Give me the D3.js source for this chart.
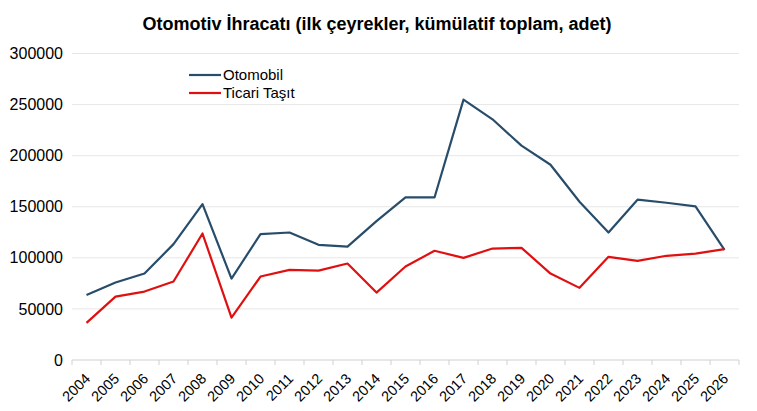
<!DOCTYPE html>
<html>
<head>
<meta charset="utf-8">
<script src="https://cdn.jsdelivr.net/npm/d3@7"></script>
<style>
  body { margin: 0; background: #fff; }
  text { font-family: "Liberation Sans", Arial, sans-serif; fill: #000; }
</style>
</head>
<body>
<script>
const width = 757;
const height = 411;

// data
const years = ['2004','2005','2006','2007','2008','2009','2010','2011','2012','2013','2014','2015',
               '2016','2017','2018','2019','2020','2021','2022','2023','2024','2025','2026'];
const otomobil = [63700, 75800, 84600, 113400, 152600, 79700, 123200, 124800, 112700, 111000, 136000, 159100,
                  159100, 254900, 235600, 209800, 191100, 154900, 124800, 156900, 153900, 150300, 107800];
const ticari = [36300, 62000, 67000, 76800, 123800, 41500, 81700, 88200, 87500, 94400, 66000, 91500,
                106900, 100000, 109100, 109800, 84600, 70600, 101000, 97000, 102000, 104200, 108500];
const yTicks = [0, 50000, 100000, 150000, 200000, 250000, 300000];
const seriesNames = ['Otomobil', 'Ticari Taşıt'];
const seriesColors = ['#284d6b', '#e01010'];

const margin = {left: 72, right: 18, top: 53.5, bottom: 51};

const svg = d3.select('body').append('svg').attr('width', width).attr('height', height);

svg.append('text')
  .attr('x', 377).attr('y', 30)
  .attr('text-anchor', 'middle')
  .style('font-size', '18px').style('font-weight', 'bold')
  .text('Otomotiv İhracatı (ilk çeyrekler, kümülatif toplam, adet)');

const xs = d3.scaleBand().domain(years).range([margin.left, width - margin.right]);
const ys = d3.scaleLinear().domain([0, 300000]).range([height - margin.bottom, margin.top]);

// gridlines
svg.append('g')
  .selectAll('line')
  .data(yTicks.slice(1))
  .enter()
  .append('line')
  .attr('x1', margin.left).attr('x2', width - margin.right)
  .attr('y1', d => ys(d)).attr('y2', d => ys(d))
  .style('stroke', '#e6e6e6').style('stroke-width', 1);

// y axis labels
const yaxis = d3.axisLeft(ys).tickValues(yTicks).tickSize(0).tickPadding(9).tickFormat(d3.format('d'));
svg.append('g')
  .attr('transform', `translate(${margin.left},0)`)
  .call(yaxis)
  .call(g => g.select('.domain').remove())
  .selectAll('text')
  .style('font-size', '16px')
  .style('font-family', '"Liberation Sans", Arial, sans-serif')
  .attr('fill', '#000');

// x axis: line with tick marks at category boundaries
const xAxisG = svg.append('g').attr('transform', `translate(0,${ys(0)})`);
xAxisG.append('line')
  .attr('x1', margin.left).attr('x2', width - margin.right)
  .style('stroke', '#d0d0d0');
xAxisG.selectAll('.tk')
  .data(years.concat(['end']))
  .enter()
  .append('line')
  .attr('x1', (d, i) => i < years.length ? xs(d) : xs(years[years.length - 1]) + xs.bandwidth())
  .attr('x2', (d, i) => i < years.length ? xs(d) : xs(years[years.length - 1]) + xs.bandwidth())
  .attr('y1', 0).attr('y2', 5)
  .style('stroke', '#d0d0d0');
xAxisG.selectAll('text')
  .data(years)
  .enter()
  .append('text')
  .attr('transform', d => `translate(${xs(d) + xs.bandwidth() / 2 + 1},${16}) rotate(-45)`)
  .attr('text-anchor', 'end')
  .attr('dy', '0.35em')
  .style('font-size', '14.5px')
  .text(d => d);

// lines
const line = d3.line()
  .x((d, i) => xs(years[i]) + xs.bandwidth() / 2)
  .y(d => ys(d));

[otomobil, ticari].forEach(function(vals, k) {
  svg.append('path')
    .datum(vals)
    .attr('d', line)
    .style('fill', 'none')
    .style('stroke', seriesColors[k])
    .style('stroke-width', 2.2)
    .style('stroke-linejoin', 'round');
});

// legend
const lg = svg.append('g').attr('transform', 'translate(189,75)');
seriesNames.forEach(function(name, k) {
  lg.append('line')
    .attr('x1', 0).attr('x2', 32)
    .attr('y1', k * 18).attr('y2', k * 18)
    .style('stroke', seriesColors[k]).style('stroke-width', 2.2);
  lg.append('text')
    .attr('x', 34).attr('y', k * 18)
    .attr('dy', '0.35em')
    .style('font-size', '15px')
    .text(name);
});
</script>
</body>
</html>
